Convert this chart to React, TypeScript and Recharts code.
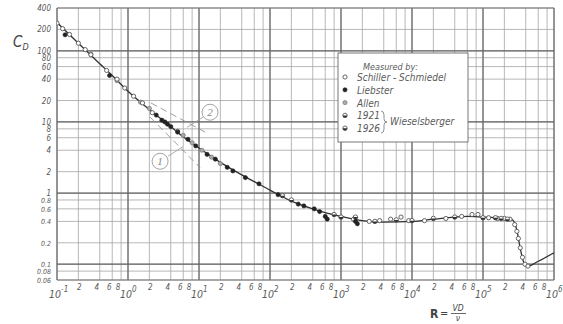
import React from "react";
import {
  ComposedChart, Line, Scatter, XAxis, YAxis, CartesianGrid,
  ReferenceLine, ReferenceDot,
} from "recharts";

const X_TICKS = [
  0.1, 0.2, 0.4, 0.6, 0.8, 1, 2, 4, 6, 8, 10, 20, 40, 60, 80,
  100, 200, 400, 600, 800, 1e3, 2e3, 4e3, 6e3, 8e3, 1e4, 2e4, 4e4, 6e4, 8e4,
  1e5, 2e5, 4e5, 6e5, 8e5, 1e6,
];
const X_DECADES = [0.1, 1, 10, 100, 1e3, 1e4, 1e5, 1e6];
const Y_TICKS = [0.06, 0.08, 0.1, 0.2, 0.4, 0.6, 0.8, 1, 2, 4, 6, 8, 10, 20, 40, 60, 80, 100, 200, 400];
const Y_DECADES = [0.1, 1, 10, 100];

// main drag curve (R, C_D)
const CURVE_RE = [0.1, 0.2, 0.4, 0.6, 1, 2, 4, 6, 10, 20, 40, 60, 100, 200, 400, 600, 1000, 2000, 4000, 1e4, 2e4, 4e4, 6e4, 1e5, 1.5e5, 2e5, 2.6e5, 3e5, 3.3e5, 3.7e5, 4.2e5, 6e5, 1e6];
const CURVE_CD = [250, 128, 66, 45, 27, 15, 8.6, 6.2, 4.3, 2.7, 1.8, 1.45, 1.1, 0.77, 0.6, 0.53, 0.47, 0.41, 0.39, 0.4, 0.43, 0.46, 0.47, 0.46, 0.45, 0.44, 0.42, 0.3, 0.18, 0.11, 0.093, 0.11, 0.145];

// dashed reference lines 1 and 2
const LINE1 = [{ re: 2.04, cd: 11.7 }, { re: 10.3, cd: 2.3 }];
const LINE2 = [{ re: 2.1, cd: 18.5 }, { re: 12.2, cd: 7.2 }];

const SCHILLER: [number, number][] = [
  [0.1, 245], [0.12, 205], [0.15, 170], [0.2, 128], [0.25, 104], [0.3, 88], [0.5, 53], [0.7, 40],
  [0.9, 30], [1.2, 23], [1.6, 18.5], [2.2, 13.5], [5, 7.4], [1500, 0.43], [2500, 0.4], [3500, 0.41],
  [5000, 0.43], [7000, 0.46], [9000, 0.41], [1.5e4, 0.41], [3e4, 0.44], [5e4, 0.47], [7e4, 0.5],
  [8.5e4, 0.5], [1.2e5, 0.45], [1.6e5, 0.44], [2e5, 0.44], [2.4e5, 0.43], [2.8e5, 0.36],
  [3e5, 0.29], [3.15e5, 0.23], [3.35e5, 0.17], [3.6e5, 0.125], [3.9e5, 0.1], [4.3e5, 0.094],
];
const LIEBSTER: [number, number][] = [
  [0.13, 168], [0.55, 45], [2.5, 12.5], [3, 10.6], [3.3, 10], [3.6, 9.3], [4, 8.6], [5, 7.2],
  [7, 5.7], [9, 4.6], [13, 3.5], [17, 3.0], [25, 2.3], [30, 2.05], [45, 1.65], [70, 1.35],
  [130, 0.95], [250, 0.7], [300, 0.66], [420, 0.6], [500, 0.55], [600, 0.47], [640, 0.43],
  [1600, 0.4], [1700, 0.37],
];
const ALLEN: [number, number][] = [
  [0.3, 90], [0.7, 38], [1.5, 19], [2, 15.5], [6, 6.5], [8, 5.1], [11, 4.0], [15, 3.2], [20, 2.6],
];
const WIESELSBERGER: [number, number][] = [
  [150, 0.92], [200, 0.8], [800, 0.5], [1000, 0.46], [1600, 0.46], [3000, 0.4], [6000, 0.42],
  [1e4, 0.41], [2e4, 0.44], [4e4, 0.46], [1e5, 0.45], [1.5e5, 0.45], [1.8e5, 0.44], [2.2e5, 0.43],
];

const curve = CURVE_RE.map((re, i) => ({ re, cd: CURVE_CD[i] }));
const toRows = (pts: [number, number][]) => pts.map(([re, cd]) => ({ re, cd }));

const FONT = "'DejaVu Sans Condensed', 'Liberation Sans Narrow', 'Liberation Sans', sans-serif";
const TXT = "#5a5a5a";
const INK = "#333";

const isDecade = (v: number) => Math.abs(Math.log10(v) - Math.round(Math.log10(v))) < 1e-6;

function XTick({ x, y, payload }: any) {
  const v = payload.value as number;
  if (isDecade(v)) {
    const e = Math.round(Math.log10(v));
    return (
      <text x={x - 8} y={y + 18} fontSize={10.5} fontStyle="italic" fill={TXT} fontFamily={FONT}>
        10<tspan dy={-6} fontSize={8}>{e}</tspan>
      </text>
    );
  }
  const m = Math.round(v / 10 ** Math.floor(Math.log10(v) + 1e-9));
  return (
    <text x={m === 2 ? x + 1 : x - 3} y={y + 10} fontSize={8} fontStyle="italic" fill={TXT} fontFamily={FONT} textAnchor="middle">
      {m}
    </text>
  );
}

function YTick({ x, y, payload }: any) {
  const v = payload.value as number;
  return (
    <text x={x - 6} y={y + 3} fontSize={v < 1 ? 7 : 8} fontStyle="italic" fill={TXT} fontFamily={FONT} textAnchor="end">
      {String(v)}
    </text>
  );
}

const openDot = (p: any) => <circle cx={p.cx} cy={p.cy} r={2.1} fill="#fff" stroke="#555" strokeWidth={0.9} />;
const fullDot = (p: any) => <circle cx={p.cx} cy={p.cy} r={2.1} fill="#222" stroke="#222" strokeWidth={0.6} />;
const greyDot = (p: any) => <circle cx={p.cx} cy={p.cy} r={2.1} fill="#aaa" stroke="#777" strokeWidth={0.7} />;
const halfDot = (p: any) => (
  <g>
    <circle cx={p.cx} cy={p.cy} r={2.2} fill="#fff" stroke="#444" strokeWidth={0.8} />
    <path d={`M${p.cx - 2.2},${p.cy} A2.2,2.2 0 0 0 ${p.cx + 2.2},${p.cy} Z`} fill="#333" />
  </g>
);

function Legend() {
  const rows = [
    { label: "Schiller - Schmiedel", dot: openDot },
    { label: "Liebster", dot: fullDot },
    { label: "Allen", dot: greyDot },
    { label: "1921", dot: halfDot },
    { label: "1926", dot: halfDot },
  ];
  return (
    <g fontFamily={FONT} fontStyle="italic" fill={TXT}>
      <rect x={338} y={53} width={130} height={89} fill="#fff" stroke="#777" strokeWidth={1} />
      <text x={363} y={70} fontSize={9}>Measured by:</text>
      {rows.map((r, i) => (
        <g key={r.label}>
          {r.dot({ cx: 345, cy: 77 + i * 12.8 })}
          <text x={357} y={81 + i * 12.8} fontSize={10}>{r.label}</text>
        </g>
      ))}
      <path d="M381,111 q3,0 3,4 v4 q0,3 3,3 q-3,0 -3,3 v4 q0,4 -3,4" fill="none" stroke="#777" strokeWidth={0.8} />
      <text x={390} y={125} fontSize={10}>Wieselsberger</text>
    </g>
  );
}

export default function App() {
  return (
    <div style={{ position: "absolute", left: 0, top: 0, width: 563, height: 324, background: "#fff" }}>
      <ComposedChart width={563} height={324} margin={{ top: 8, right: 9, bottom: 0, left: 0 }}>
        <CartesianGrid stroke="#a4a4a4" strokeWidth={0.8} />
        <XAxis
          dataKey="re" type="number" scale="log" domain={[0.1, 1e6]} ticks={X_TICKS} interval={0}
          allowDataOverflow axisLine={false} tickLine={false} tickSize={0} tickMargin={0} height={44}
          tick={<XTick />}
        />
        <YAxis
          type="number" scale="log" domain={[0.06, 400]} ticks={Y_TICKS} interval={0}
          allowDataOverflow axisLine={false} tickLine={false} tickSize={0} tickMargin={0} width={57}
          tick={<YTick />}
        />
        {X_DECADES.map((d) => (
          <ReferenceLine key={`x${d}`} x={d} stroke="#666" strokeWidth={1.2} />
        ))}
        {Y_DECADES.map((d) => (
          <ReferenceLine key={`y${d}`} y={d} stroke="#666" strokeWidth={1.2} />
        ))}
        <ReferenceLine y={400} stroke="#777" strokeWidth={1} />
        <ReferenceLine y={0.06} stroke="#777" strokeWidth={1} />

        <Line data={LINE1} dataKey="cd" stroke="#888" strokeWidth={0.8} strokeDasharray="7 4" dot={false} isAnimationActive={false} />
        <Line data={LINE2} dataKey="cd" stroke="#888" strokeWidth={0.8} strokeDasharray="7 4" dot={false} isAnimationActive={false} />
        <ReferenceLine segment={[{ x: 11.4, y: 11.7 }, { x: 6.8, y: 8.4 }]} stroke="#999" strokeWidth={0.8} />
        <ReferenceLine segment={[{ x: 3.66, y: 3.3 }, { x: 5.96, y: 4.5 }]} stroke="#999" strokeWidth={0.8} />
        <ReferenceDot x={14.3} y={13.7} r={8} fill="#fff" stroke="#999" strokeWidth={0.9}
          label={{ value: "2", position: "center", fontSize: 11, fontStyle: "italic", fill: "#888" }} />
        <ReferenceDot x={2.83} y={2.8} r={8} fill="#fff" stroke="#999" strokeWidth={0.9}
          label={{ value: "1", position: "center", fontSize: 11, fontStyle: "italic", fill: "#888" }} />

        <Line data={curve} dataKey="cd" type="monotone" stroke={INK} strokeWidth={1.3} dot={false} isAnimationActive={false} />
        <Scatter data={toRows(ALLEN)} dataKey="cd" shape={greyDot} isAnimationActive={false} />
        <Scatter data={toRows(SCHILLER)} dataKey="cd" shape={openDot} isAnimationActive={false} />
        <Scatter data={toRows(WIESELSBERGER)} dataKey="cd" shape={halfDot} isAnimationActive={false} />
        <Scatter data={toRows(LIEBSTER)} dataKey="cd" shape={fullDot} isAnimationActive={false} />
      </ComposedChart>
      <svg width={563} height={324} style={{ position: "absolute", left: 0, top: 0, pointerEvents: "none" }}>
        <Legend />
        <text x={13} y={47} fontSize={15} fontStyle="italic" fill="#444" fontFamily={FONT}>
          C<tspan fontSize={9} dy={3}>D</tspan>
        </text>
        <g fontFamily={FONT} fill="#444">
          <text x={430} y={318} fontSize={12} fontWeight="bold">R</text>
          <text x={440} y={317} fontSize={11}>=</text>
          <text x={458} y={311} fontSize={8.5} fontStyle="italic" textAnchor="middle">VD</text>
          <line x1={451} x2={466} y1={313.5} y2={313.5} stroke="#444" strokeWidth={0.8} />
          <text x={458} y={321} fontSize={8.5} fontStyle="italic" textAnchor="middle">ν</text>
        </g>
      </svg>
    </div>
  );
}
